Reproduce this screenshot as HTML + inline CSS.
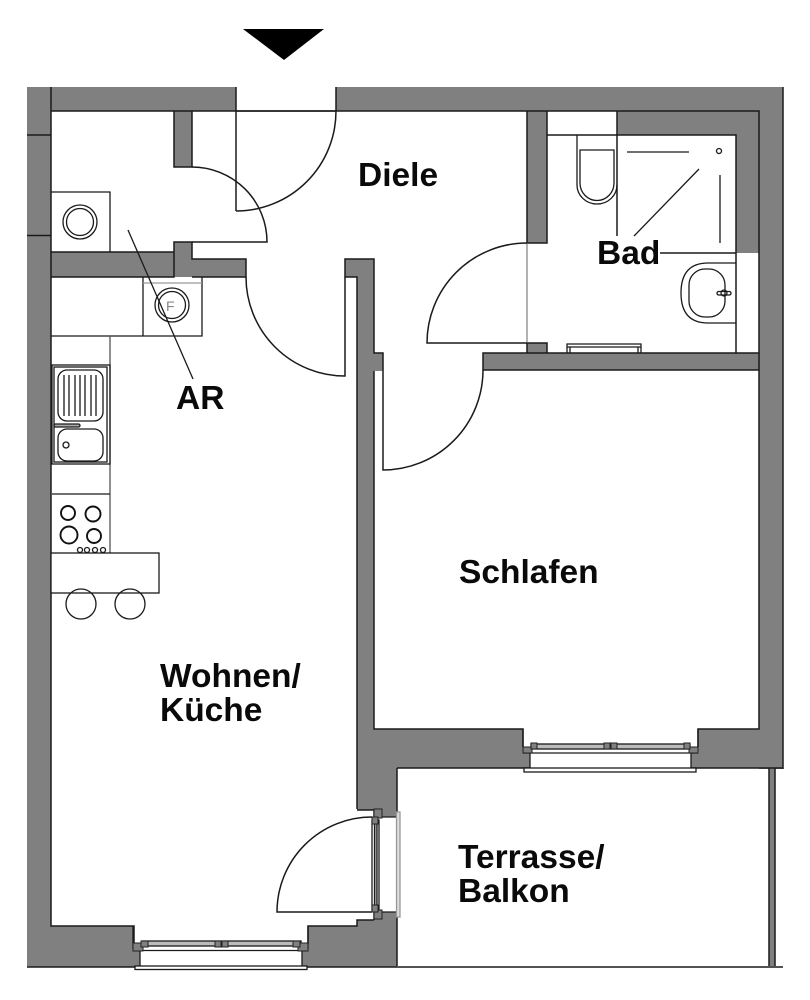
<!DOCTYPE html>
<html><head><meta charset="utf-8"><style>
html,body{margin:0;padding:0;background:#fff;width:810px;height:1000px;overflow:hidden}
svg{display:block;filter:blur(0.25px)}
.w{fill:#808080;stroke:none}
.l{fill:none;stroke:#1a1a1a;stroke-width:1.5}
.t{fill:none;stroke:#1a1a1a;stroke-width:1.3}
.g{fill:#808080;stroke:#222;stroke-width:1}
text{font-family:"Liberation Sans",sans-serif;font-weight:bold;font-size:33.5px;fill:#0a0a0a}
</style></head><body>
<svg width="810" height="1000" viewBox="0 0 810 1000" xmlns="http://www.w3.org/2000/svg">
<rect width="810" height="1000" fill="#fff"/>
<polygon points="243,29 324,29 284,60" fill="#000"/>

<!-- walls -->
<g class="w">
<rect x="27" y="87" width="24" height="880"/>
<rect x="27" y="87" width="209" height="24"/>
<rect x="336" y="87" width="447" height="24"/>
<rect x="759" y="87" width="24" height="682"/>
<rect x="174" y="111" width="18" height="56"/>
<rect x="51" y="252" width="123" height="25"/>
<rect x="174" y="242" width="18" height="35"/>
<rect x="192" y="259" width="54" height="18"/>
<polygon points="345,259 374,259 374,353 383,353 383,371 374,371 374,729 374,810 357,810 357,277 345,277"/>
<rect x="527" y="111" width="20" height="132"/>
<rect x="527" y="343" width="20" height="10"/>
<rect x="483" y="353" width="276" height="17"/>
<rect x="617" y="111" width="142" height="24"/>
<rect x="736" y="135" width="23" height="118"/>
<polygon points="357,729 523,729 523,747 530,747 530,768 397,768 397,817 382,817 382,809 357,809"/>
<polygon points="698,729 783,729 783,768 691,768 691,747 698,747"/>
<rect x="769" y="768" width="6" height="198"/>
<polygon points="27,926 134,926 134,951 140,951 140,967 27,967"/>
<polygon points="308,926 357,926 357,920 374,920 374,912 397,912 397,967 302,967 302,951 308,951"/>
</g>

<!-- wall outlines -->
<g class="l">
<path d="M27,135H51M27,235.500H51"/>
<path d="M51,87V926H134V944M308,944V926H357V920H374M357,809V277H345V259H374V353H383V371M374,371V729H523V747M698,747V729H759V111H51"/>
<path d="M336,87V111M236,87V211"/>
<path d="M783,87V769"/>
<path d="M174,111V167H192V111"/>
<path d="M51,252H174V242H192V259H246V277H192M51,277H174V252"/>
<path d="M527,111V243H547V111M527,353V343H547V353M483,370V353H759M483,370H759"/>
<path d="M617,111V236M547,135H736V353M736,135V253M736,253H660"/>
<path d="M357,810H374V817M397,768V966M397,768H530M691,768H783"/>
<path d="M374,920V912"/>
<path d="M27,967H783"/>
<path d="M769,768V966M775,768V966"/>
</g>
<path d="M527,243V343" fill="none" stroke="#666" stroke-width="1"/>

<!-- doors -->
<g class="l">
<path d="M236,111H336M336,111A100,100 0 0 1 236,211"/>
<path d="M192,167A75,75 0 0 1 267,242H192"/>
<path d="M246,277A99,99 0 0 0 345,376V277"/>
<path d="M527,243A100,100 0 0 0 427,343H527"/>
<path d="M383,371V470A100,100 0 0 0 483,370"/>
<path d="M372,817A95,95 0 0 0 277,912H372"/>
</g>

<!-- AR fixtures -->
<g class="t">
<path d="M51,192H110V252"/>
<circle cx="80" cy="222" r="17"/><circle cx="80" cy="222" r="13.500"/>
<path d="M51,336H202V277M143,277V336"/>
<path d="M143,283H202" stroke="#999"/>
<circle cx="172" cy="305" r="17"/><circle cx="172" cy="305" r="13.500"/>
<path d="M128,230L193,379"/>
</g>
<text x="166" y="311" style="font-size:14px;font-weight:normal;fill:#888">F</text>

<!-- kitchen -->
<g class="t">
<path d="M110,336V553" stroke="#555"/>
<rect x="52" y="365" width="58" height="99"/>
<rect x="54" y="367" width="53" height="95"/>
<rect x="58" y="370" width="45" height="51" rx="9"/>
<path d="M64,375V416M69,375V416M75,375V416M80,375V416M85,375V416M91,375V416M96,375V416"/>
<rect x="54" y="424" width="26" height="3" rx="1.500" fill="#aaa"/>
<rect x="58" y="429" width="45" height="32" rx="9"/>
<circle cx="66" cy="445" r="3"/>
<path d="M52,494H110"/>
<rect x="51" y="553" width="108" height="40" fill="#fff"/>
<circle cx="81" cy="604" r="15"/><circle cx="130" cy="604" r="15"/>
</g>
<g fill="none" stroke="#111" stroke-width="1.900">
<circle cx="68" cy="513" r="7"/><circle cx="93" cy="514" r="7.500"/><circle cx="69" cy="535" r="8.500"/><circle cx="94" cy="536" r="7"/>
</g>
<g class="t"><circle cx="80" cy="550" r="2.500"/><circle cx="87" cy="550" r="2.500"/><circle cx="95" cy="550" r="2.500"/><circle cx="103" cy="550" r="2.500"/></g>

<!-- bath fixtures -->
<g class="t">
<path d="M577,135V185A20,19 0 0 0 617,185"/>
<path d="M580,150H614V183A17,17.500 0 0 1 580,183Z"/>
<path d="M627,152H689M634,236L699,169M720,175V243"/>
<circle cx="719" cy="151" r="2.500"/>
<path d="M736,263H708Q681,263 681,293Q681,323 708,323H736"/>
<rect x="689" y="269" width="36" height="48" rx="16"/>
<rect x="717" y="291.500" width="14" height="3.500" rx="1.700"/><circle cx="724" cy="293" r="3"/>
<path d="M567,353V344H641V353M567,347H641M570,347V353M638,347V353"/>
</g>

<!-- top window -->
<g class="t">
<path d="M523,729V747M698,729V747"/>
<rect x="531" y="744" width="159" height="5" fill="#bbb"/>
<path d="M523,753H698M530,753V768M691,753V768"/>
<rect x="524" y="768" width="172" height="4" fill="#fff"/>
</g>
<g class="g">
<rect x="523" y="747" width="9" height="6"/><rect x="689" y="747" width="9" height="6"/>
<rect x="531" y="743" width="6" height="6"/><rect x="684" y="743" width="6" height="6"/>
<rect x="604" y="743" width="6" height="6"/><rect x="611" y="743" width="6" height="6"/>
</g>

<!-- bottom window -->
<g class="t">
<rect x="142" y="941" width="159" height="5" fill="#bbb"/>
<path d="M133,926V949M308,926V949M134,950.500H308M140,950V966M302,950V966"/>
<rect x="135" y="966" width="172" height="3.500" fill="#fff"/>
</g>
<g class="g">
<rect x="133" y="943" width="10" height="8"/><rect x="298" y="943" width="10" height="8"/>
<rect x="141" y="941" width="7" height="6"/><rect x="293" y="941" width="7" height="6"/>
<rect x="215" y="941" width="6" height="6"/><rect x="222" y="941" width="6" height="6"/>
</g>

<!-- side door frame -->
<rect x="372" y="817" width="9" height="95" fill="#fff"/>
<g class="t">
<rect x="372" y="820" width="7" height="90"/>
<rect x="374.500" y="820" width="2.500" height="90" fill="#aaa"/>
<path d="M382,817H397M382,912H397"/>
<rect x="396.500" y="812" width="3.500" height="105" fill="#ddd" stroke="#999"/>
</g>
<g class="g">
<rect x="374" y="809" width="8" height="9"/><rect x="374" y="910" width="8" height="9"/>
<rect x="372" y="817" width="6" height="7"/><rect x="372" y="905" width="6" height="7"/>
</g>

<!-- labels -->
<text x="358" y="186">Diele</text>
<text x="597" y="264">Bad</text>
<text x="176" y="409">AR</text>
<text x="459" y="583">Schlafen</text>
<text x="160" y="687">Wohnen/</text>
<text x="160" y="721">Küche</text>
<text x="458" y="868">Terrasse/</text>
<text x="458" y="902">Balkon</text>
</svg>
</body></html>
